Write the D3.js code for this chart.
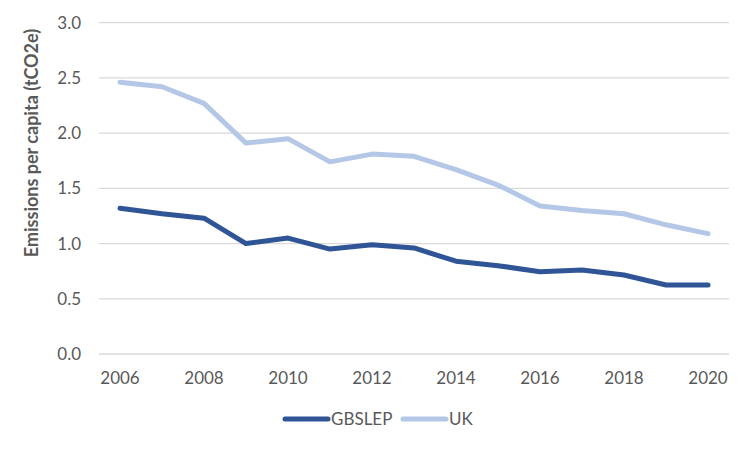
<!DOCTYPE html>
<html>
<head>
<meta charset="utf-8">
<style>
  body { margin: 0; background: #fff; }
  text { font-family: Lato, "Open Sans", sans-serif; fill: #595959; }
</style>
</head>
<body>
<script src="https://cdn.jsdelivr.net/npm/d3@7"></script>
<script>
var years = [2006, 2007, 2008, 2009, 2010, 2011, 2012, 2013, 2014, 2015, 2016, 2017, 2018, 2019, 2020];
var gbslep = [1.32, 1.27, 1.23, 1.00, 1.05, 0.95, 0.99, 0.96, 0.84, 0.80, 0.745, 0.76, 0.715, 0.625, 0.625];
var uk = [2.46, 2.42, 2.27, 1.91, 1.95, 1.74, 1.81, 1.79, 1.67, 1.53, 1.34, 1.30, 1.27, 1.17, 1.09];
var yTicks = [0, 0.5, 1.0, 1.5, 2.0, 2.5, 3.0];
var xLabels = [2006, 2008, 2010, 2012, 2014, 2016, 2018, 2020];

var series = [
  { name: "GBSLEP", values: gbslep, color: "#2F5597" },
  { name: "UK", values: uk, color: "#B4C7E7" }
];

var width = 750, height = 450;
var svg = d3.select("body").append("svg")
  .attr("width", width).attr("height", height);

var x = d3.scalePoint().domain(years).range([99, 729]).padding(0.5);
var y = d3.scaleLinear().domain([0, 3]).range([354, 22.7]);

// gridlines
svg.append("g").selectAll("line")
  .data(yTicks).enter().append("line")
  .attr("x1", 99).attr("x2", 729)
  .attr("y1", d => y(d)).attr("y2", d => y(d))
  .attr("stroke", "#D9D9D9").attr("stroke-width", 1.3);

// y tick labels
svg.append("g").selectAll("text")
  .data(yTicks).enter().append("text")
  .attr("x", 81).attr("y", d => y(d))
  .attr("dy", "0.35em")
  .attr("text-anchor", "end")
  .style("font-size", "17px")
  .text(d => d.toFixed(1));

// x tick labels
svg.append("g").selectAll("text")
  .data(xLabels).enter().append("text")
  .attr("x", d => x(d)).attr("y", 384)
  .attr("text-anchor", "middle")
  .style("font-size", "17px")
  .text(d => d);

// axis title
svg.append("text")
  .attr("transform", "translate(38,143) rotate(-90)")
  .attr("text-anchor", "middle")
  .style("font-size", "18px")
  .style("font-weight", "bold")
  .text("Emissions per capita (tCO2e)");

var line = d3.line()
  .x((d, i) => x(years[i]))
  .y(d => y(d));

// UK drawn first, GBSLEP on top
series.slice().reverse().forEach(s => {
  svg.append("path")
    .datum(s.values)
    .attr("d", line)
    .attr("fill", "none")
    .attr("stroke", s.color)
    .attr("stroke-width", 5)
    .attr("stroke-linejoin", "round")
    .attr("stroke-linecap", "round");
});

// legend
var legendX = [285, 403];
series.forEach((s, i) => {
  var g = svg.append("g").attr("transform", "translate(" + legendX[i] + ",419)");
  g.append("line")
    .attr("x1", 0).attr("x2", 43)
    .attr("stroke", s.color).attr("stroke-width", 5)
    .attr("stroke-linecap", "round");
  g.append("text")
    .attr("x", 46).attr("dy", "0.35em")
    .style("font-size", "17px")
    .text(s.name);
});
</script>
</body>
</html>
